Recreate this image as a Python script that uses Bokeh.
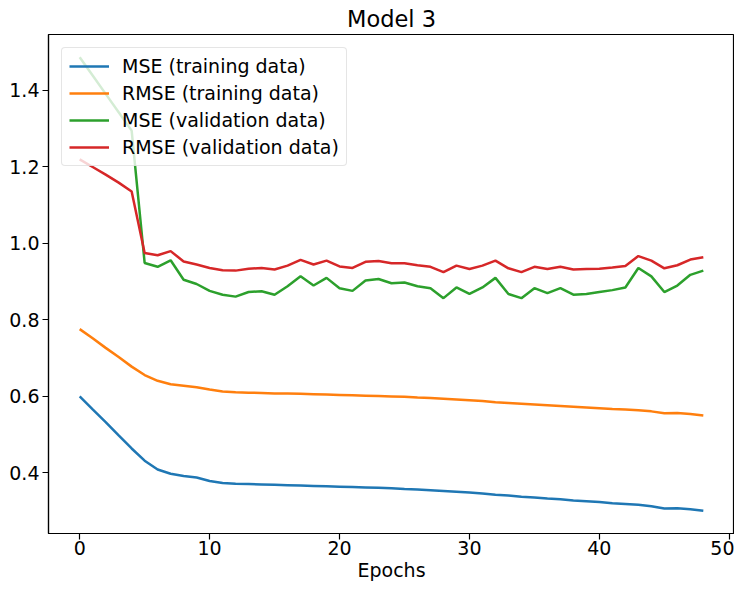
from bokeh.plotting import figure
from bokeh.models import Range1d, FixedTicker, Legend, LegendItem, PrintfTickFormatter
from bokeh.embed import file_html
from bokeh.resources import INLINE

epochs = list(range(49))

mse_train = [0.600, 0.566, 0.533, 0.498, 0.464, 0.432, 0.409, 0.398, 0.392, 0.388,
             0.379, 0.374, 0.372, 0.371, 0.370, 0.369, 0.368, 0.367, 0.366, 0.365,
             0.364, 0.363, 0.362, 0.361, 0.360, 0.358, 0.357, 0.355, 0.353, 0.351,
             0.349, 0.346, 0.343, 0.341, 0.338, 0.336, 0.333, 0.331, 0.328, 0.326,
             0.324, 0.321, 0.319, 0.317, 0.313, 0.307, 0.308, 0.305, 0.301]

rmse_train = [0.776, 0.752, 0.727, 0.703, 0.678, 0.656, 0.641, 0.632, 0.628, 0.624,
              0.618, 0.613, 0.611, 0.610, 0.609, 0.608, 0.608, 0.607, 0.606, 0.605,
              0.604, 0.603, 0.602, 0.601, 0.600, 0.599, 0.597, 0.596, 0.594, 0.592,
              0.590, 0.588, 0.585, 0.583, 0.581, 0.579, 0.577, 0.575, 0.573, 0.571,
              0.569, 0.567, 0.566, 0.564, 0.561, 0.556, 0.557, 0.554, 0.550]

mse_val = [1.487, 1.439, 1.391, 1.343, 1.295, 0.949, 0.939, 0.956, 0.905, 0.894,
           0.876, 0.866, 0.861, 0.873, 0.875, 0.866, 0.888, 0.914, 0.890, 0.910,
           0.883, 0.876, 0.903, 0.907, 0.896, 0.898, 0.888, 0.883, 0.857, 0.885,
           0.868, 0.885, 0.910, 0.868, 0.857, 0.883, 0.870, 0.883, 0.866, 0.868,
           0.873, 0.878, 0.885, 0.936, 0.914, 0.873, 0.890, 0.918, 0.929]

rmse_val = [1.220, 1.200, 1.180, 1.159, 1.136, 0.975, 0.969, 0.980, 0.953, 0.945,
            0.936, 0.930, 0.929, 0.934, 0.936, 0.932, 0.942, 0.957, 0.945, 0.955,
            0.940, 0.936, 0.952, 0.954, 0.948, 0.948, 0.943, 0.939, 0.925, 0.942,
            0.933, 0.942, 0.955, 0.935, 0.925, 0.939, 0.933, 0.939, 0.932, 0.933,
            0.934, 0.937, 0.941, 0.967, 0.955, 0.935, 0.943, 0.958, 0.964]

series = [
    ("MSE (training data)", mse_train, "#1f77b4"),
    ("RMSE (training data)", rmse_train, "#ff7f0e"),
    ("MSE (validation data)", mse_val, "#2ca02c"),
    ("RMSE (validation data)", rmse_val, "#d62728"),
]

x_ticks = [0, 10, 20, 30, 40, 50]
y_ticks = [0.4, 0.6, 0.8, 1.0, 1.2, 1.4]

FONT = "DejaVu Sans"

allv = mse_train + rmse_train + mse_val + rmse_val
ymin, ymax = min(allv), max(allv)
ypad = (ymax - ymin) * 0.05
xpad = (max(epochs) - min(epochs)) * 0.05

p = figure(width=734, height=583, output_backend="svg", toolbar_location=None,
           x_range=Range1d(min(epochs) - xpad, max(epochs) + xpad),
           y_range=Range1d(ymin - ypad, ymax + ypad),
           title="Model 3",
           min_border_left=48, min_border_right=0, min_border_top=34, min_border_bottom=0)

p.title.align = "center"
p.title.text_font = FONT
p.title.text_font_size = "22.5px"
p.title.text_font_style = "normal"
p.title.text_color = "#000000"
p.title.standoff = 6

p.xgrid.visible = False
p.ygrid.visible = False
p.outline_line_color = "#000000"
p.outline_line_width = 1.2
p.outline_line_alpha = 1

for ax in (p.xaxis[0], p.yaxis[0]):
    ax.axis_line_color = "#000000"
    ax.axis_line_width = 1.2
    ax.major_tick_line_color = "#000000"
    ax.major_tick_line_width = 1.2
    ax.major_tick_out = 6
    ax.major_tick_in = 0
    ax.minor_tick_line_color = None
    ax.major_label_text_font = FONT
    ax.major_label_text_font_size = "19px"
    ax.major_label_text_color = "#000000"
    ax.major_label_standoff = 3
    ax.axis_label_text_font = FONT
    ax.axis_label_text_font_size = "19px"
    ax.axis_label_text_font_style = "normal"
    ax.axis_label_text_color = "#000000"

p.xaxis.major_label_standoff = 1
p.xaxis.ticker = FixedTicker(ticks=x_ticks)
p.yaxis.ticker = FixedTicker(ticks=y_ticks)
p.yaxis.formatter = PrintfTickFormatter(format="%.1f")
p.xaxis.axis_label = "Epochs"
p.xaxis.axis_label_standoff = 1

items = []
for label, vals, color in series:
    r = p.line(epochs, vals, line_color=color, line_width=2.5)
    items.append(LegendItem(label=label, renderers=[r]))

legend = Legend(items=items, location="top_left")
legend.label_text_font = FONT
legend.label_text_font_size = "19px"
legend.label_text_color = "#000000"
legend.glyph_width = 40
legend.glyph_height = 22
legend.label_standoff = 13
legend.spacing = 5
legend.padding = 7
legend.margin = 13
legend.border_line_color = "#cccccc"
legend.border_line_width = 1
legend.border_radius = 4
legend.background_fill_alpha = 0.8
p.add_layout(legend)

open("out.html", "w").write(file_html(p, INLINE))
